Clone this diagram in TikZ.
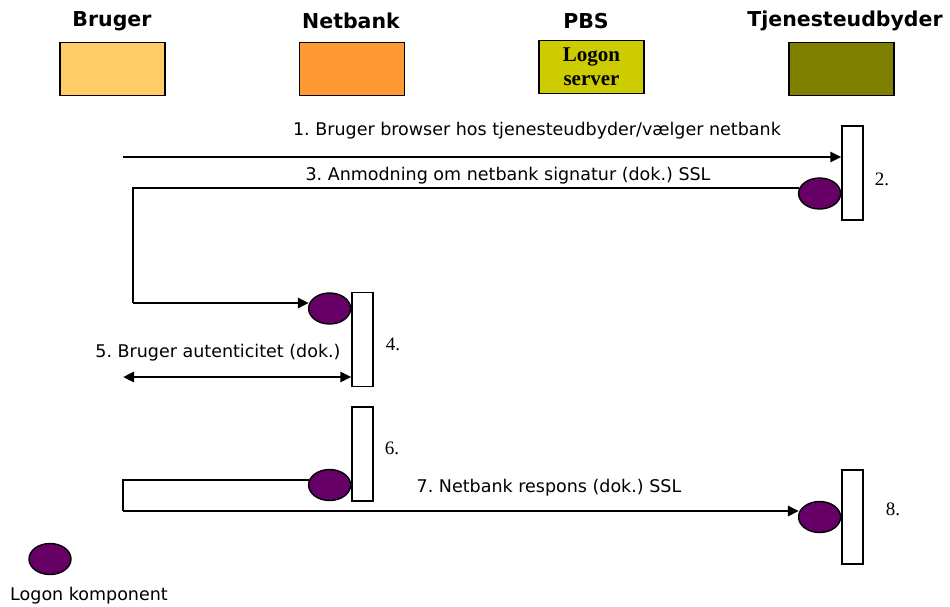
\documentclass[tikz,border=0pt]{standalone}
\usepackage{fontspec}
\setmainfont{Liberation Serif}
\newfontfamily\verdfont{DejaVu Sans}
\usetikzlibrary{arrows.meta,shapes.geometric}
\definecolor{brugercol}{HTML}{FFCC66}
\definecolor{netbankcol}{HTML}{FF9933}
\definecolor{pbscol}{HTML}{CCCC00}
\definecolor{tjenestecol}{HTML}{808000}
\definecolor{logoncol}{HTML}{660066}
\frenchspacing
\begin{document}
\begin{tikzpicture}[x=1pt,y=-1pt,
  title/.style={font=\verdfont\bfseries\fontsize{20.5}{24}\selectfont},
  actor/.style={draw,line width=1.4pt,minimum width=105pt,minimum height=53pt,inner sep=0pt},
  bar/.style={draw,fill=white,line width=1.4pt,minimum width=21pt,minimum height=94pt,inner sep=0pt},
  logon/.style={draw,ellipse,fill=logoncol,line width=1.4pt,minimum width=42pt,minimum height=31pt,inner sep=0pt},
  lbl/.style={font=\verdfont\fontsize{17.5}{20}\selectfont},
  num/.style={font=\fontsize{19}{21}\selectfont},
  tip/.tip={Triangle[length=11pt,width=10pt]},
  msg/.style={line width=2.8pt,-tip}]
\useasboundingbox (0,0) rectangle (950,606);
% actors
\node[title] (tBruger) at (112,21) {Bruger};
\node[title] (tNetbank) at (351,21) {Netbank};
\node[title] (tPBS) at (586,21) {PBS};
\node[title] (tTjeneste) at (845,21) {Tjenesteudbyder};
\node[actor,fill=brugercol] (bruger) at (112.5,69) {};
\node[actor,fill=netbankcol] (netbank) at (352,69) {};
\node[actor,fill=pbscol,align=center,font=\bfseries\fontsize{21}{24}\selectfont] (pbs) at (591.5,67) {Logon\\server};
\node[actor,fill=tjenestecol] (tjeneste) at (841.5,69) {};
% activation bars
\node[bar] (bar1) at (852.5,173) {};
\node[bar] (bar2) at (362.5,339.5) {};
\node[bar] (bar3) at (362.5,454) {};
\node[bar] (bar4) at (852.5,517) {};
\node[logon,anchor=east] (e1) at (bar1.west |- 0,193.5) {};
\node[logon,anchor=east] (e2) at (bar2.west |- 0,308.5) {};
\node[logon,anchor=east] (e3) at (bar3.west |- 0,485) {};
\node[logon,anchor=east] (e4) at (bar4.west |- 0,517) {};
\node[num] (n2) at (882,179) {2.};
\node[num] (n4) at (393,344) {4.};
\node[num] (n6) at (392,448) {6.};
\node[num] (n8) at (893,509) {8.};
% messages
\coordinate (s1) at (123,157);
\draw[msg] (s1) -- (s1 -| bar1.west);
\node[lbl] (m1) at (537,131) {1. Bruger browser hos tjenesteudbyder/vælger netbank};
\draw[line width=2pt] ([xshift=1pt]e1.west |- 0,188) -- (133,188) -- (133,303);
\draw[msg] (133,303) -- ([xshift=1pt]e2.west |- 0,303);
\node[lbl] (m3) at (508,176) {3. Anmodning om netbank signatur (dok.) SSL};
\coordinate (s5) at (123,377);
\draw[msg,tip-tip] (s5) -- (s5 -| bar2.west);
\node[lbl] (m5) at (218,353) {5. Bruger autenticitet (dok.)};
\draw[line width=2pt] ([xshift=1pt]e3.west |- 0,480) -- (123,480) -- (123,511);
\draw[msg] (123,511) -- ([xshift=1pt]e4.west |- 0,511);
\node[lbl] (m7) at (549,488) {7. Netbank respons (dok.) SSL};
% legend
\node[logon] (legend) at (50,559) {};
\node[lbl] (tLegend) at (89,596) {Logon komponent};
\end{tikzpicture}
\end{document}
